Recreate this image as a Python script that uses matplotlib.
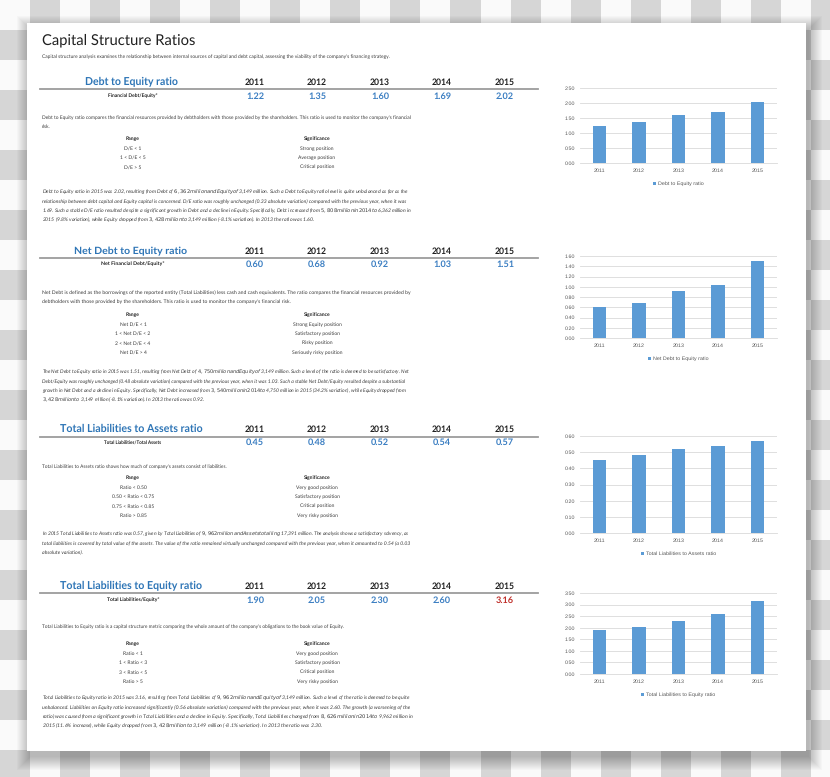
import numpy as np
import matplotlib.pyplot as plt
from matplotlib.colors import ListedColormap
from matplotlib.patches import Rectangle

plt.rcParams['text.hinting'] = 'no_hinting'

years = ['2011', '2012', '2013', '2014', '2015']
de_ratio = [1.22, 1.35, 1.60, 1.69, 2.02]
net_de_ratio = [0.60, 0.68, 0.92, 1.03, 1.51]
tl_assets = [0.45, 0.48, 0.52, 0.54, 0.57]
tl_equity = [1.90, 2.05, 2.30, 2.60, 3.16]

title = 'Capital Structure Ratios'
subtitle = ("Capital structure analysis examines the relationship between internal sources of capital "
            "and debt capital, assessing the viability of the company's financing strategy.")

headings = ['Debt to Equity ratio', 'Net Debt to Equity ratio',
            'Total Liabilities to Assets ratio', 'Total Liabilities to Equity ratio']
formulas = ['Financial Debt/Equity*', 'Net Financial Debt/Equity*',
            'Total Liabilities/Total Assets', 'Total Liabilities/Equity*']
legend_names = headings

intro_1 = ["Debt to Equity ratio compares the financial resources provided by debtholders with those provided by the shareholders. This ratio is used to monitor the company's financial",
           "risk."]
intro_2 = ["Net Debt is defined as the borrowings of the reported entity (Total Liabilities) less cash and cash equivalents. The ratio compares the financial resources provided by",
           "debtholders with those provided by the shareholders. This ratio is used to monitor the company's financial risk."]
intro_3 = ["Total Liabilities to Assets ratio shows how much of company's assets consist of liabilities."]
intro_4 = ["Total Liabilities to Equity ratio is a capital structure metric comparing the whole amount of the company's obligations to the book value of Equity."]

range_1 = ['D/E < 1', '1 < D/E < 5', 'D/E > 5']
signif_1 = ['Strong position', 'Average position', 'Critical position']
range_2 = ['Net D/E < 1', '1 < Net D/E < 2', '2 < Net D/E < 4', 'Net D/E > 4']
signif_2 = ['Strong Equity position', 'Satisfactory position', 'Risky position', 'Seriously risky position']
range_3 = ['Ratio < 0.50', '0.50 < Ratio < 0.75', '0.75 < Ratio < 0.85', 'Ratio > 0.85']
signif_3 = ['Very good position', 'Satisfactory position', 'Critical position', 'Very risky position']
range_4 = ['Ratio < 1', '1 < Ratio < 3', '3 < Ratio < 5', 'Ratio > 5']
signif_4 = ['Very good position', 'Satisfactory position', 'Critical position', 'Very risky position']

comment_1 = ["Debt to Equity ratio in 2015 was 2.02, resulting from Debt of $ 6,362 million and Equity of $ 3,149 million. Such a Debt to Equity ratio level is quite unbalanced as far as the",
             "relationship between debt capital and Equity capital is concerned. D/E ratio was roughly unchanged (0.33 absolute variation) compared with the previous year, when it was",
             "1.69. Such a stable D/E ratio resulted despite a significant growth in Debt and a decline in Equity. Specifically, Debt increased from $ 5,808 million in 2014 to $ 6,362 million in",
             "2015 (9.8% variation), while Equity dropped from $ 3,428 million to $ 3,149 million (-8.1% variation). In 2013 the ratio was 1.60."]
comment_2 = ["The Net Debt to Equity ratio in 2015 was 1.51, resulting from Net Debt of $ 4,750 million and Equity of $ 3,149 million. Such a level of the ratio is deemed to be satisfactory. Net",
             "Debt/Equity was roughly unchanged (0.48 absolute variation) compared with the previous year, when it was 1.03. Such a stable Net Debt/Equity resulted despite a substantial",
             "growth in Net Debt and a decline in Equity. Specifically, Net Debt increased from $ 3,540 million in 2014 to $ 4,750 million in 2015 (34.2% variation), while Equity dropped from",
             "$ 3,428 million to $ 3,149 million (-8.1% variation). In 2013 the ratio was 0.92."]
comment_3 = ["In 2015 Total Liabilities to Assets ratio was 0.57, given by Total Liabilities of $ 9,962 million and Assets totalling $ 17,391 million. The analysis shows a satisfactory solvency, as",
             "total liabilities is covered by total value of the assets. The value of the ratio remained virtually unchanged compared with the previous year, when it amounted to 0.54 (a 0.03",
             "absolute variation)."]
comment_4 = ["Total Liabilities to Equity ratio in 2015 was 3.16, resulting from Total Liabilities of $ 9,962 million and Equity of $ 3,149 million. Such a level of the ratio is deemed to be quite",
             "unbalanced. Liabilities on Equity ratio increased significantly (0.56 absolute variation) compared with the previous year, when it was 2.60. The growth (a worsening of the",
             "ratio) was caused from a significant growth in Total Liabilities and a decline in Equity. Specifically, Total Liabilities changed from $ 8,626 million in 2014 to $ 9,962 million in",
             "2015 (11.6% increase), while Equity dropped from $ 3,428 million to $ 3,149 million (-8.1% variation). In 2013 the ratio was 2.30."]

series = [de_ratio, net_de_ratio, tl_assets, tl_equity]
intros = [intro_1, intro_2, intro_3, intro_4]
ranges = [range_1, range_2, range_3, range_4]
signifs = [signif_1, signif_2, signif_3, signif_4]
comments = [comment_1, comment_2, comment_3, comment_4]

# layout in pixels (figure is 830 x 777)
W, H = 830, 777
head_y = [82, 251, 429, 586]
line_y = [89, 258, 437, 593]
value_y = [96, 264, 442, 600]
intro_y = [118, 293, 467, 627]
table_y = [139, 315, 478, 644]
comment_y = [192, 372, 534, 698]
year_x = [255, 317, 380, 442, 505]
chart_box = [(88, 163), (256, 338), (436, 533), (593, 674)]
chart_max = [2.5, 1.6, 0.6, 3.5]
chart_step = [0.5, 0.2, 0.1, 0.5]

BLUE = '#2e75b6'
VAL_BLUE = '#3b7ec2'
RED = '#c0302b'
TXT = '#3a3a3a'
BAR = '#5b9bd5'
DOC_FONT = ['Lato', 'DejaVu Sans']

fig = plt.figure(figsize=(W / 100, H / 100), dpi=100)
bg = fig.add_axes([0, 0, 1, 1])
bg.axis('off')

# checkerboard background
rows, cols = np.indices((27, 28))
bg.imshow((rows + cols) % 2, cmap=ListedColormap(['#fafafa', '#d6d6d6']),
          extent=[0, 28 * 30, 27 * 30, 0], interpolation='nearest', aspect='auto', zorder=0)
bg.set_xlim(0, W)
bg.set_ylim(H, 0)

# page with soft shadow
for k in range(14):
    bg.add_patch(Rectangle((27 - k + 3, 23 - k + 6), 779 + 2 * k, 728 + 2 * k,
                           color='black', alpha=0.018, lw=0, zorder=1))
bg.add_patch(Rectangle((27, 23), 779, 728, color='white', lw=0, zorder=2))

renderer = fig.canvas.get_renderer()


def fit(x, y, s, width, ha='left', **kw):
    # draw text and scale it so it spans the given pixel width
    t = bg.text(x, y, s, fontsize=10, ha=ha, va='center', family=DOC_FONT, zorder=3, **kw)
    w = t.get_window_extent(renderer).width
    t.set_fontsize(10 * width / w)
    return t.get_fontsize()


fit(42, 40, title, 153, color='#202020')
fit(42, 57, subtitle, 351, color=TXT)

for i in range(4):
    fit(131, head_y[i], headings[i], [93, 113, 142, 142][i], ha='center',
        color=BLUE, weight='bold')
    fit(133, value_y[i], formulas[i], [50, 63, 58, 52][i], ha='center',
        color='#202020', weight='bold')
    bg.plot([40, 538], [line_y[i], line_y[i]], color='#9c9c9c', lw=1.3, zorder=3)
    for j, yr in enumerate(years):
        bg.text(year_x[j], head_y[i], yr, ha='center', va='center', fontsize=6.2,
                weight='bold', color='#202020', family=DOC_FONT, zorder=3)
        val = series[i][j]
        col = RED if (i == 3 and j == 4) else VAL_BLUE
        bg.text(year_x[j], value_y[i], '%.2f' % val, ha='center', va='center',
                fontsize=6.6, weight='bold', color=col, family=DOC_FONT, zorder=3)

    # intro paragraph
    first = intros[i][0]
    fs = fit(42, intro_y[i], first, [368, 366, 183, 303][i], color=TXT)
    for k, line in enumerate(intros[i][1:]):
        bg.text(42, intro_y[i] + 8.8 * (k + 1), line, fontsize=fs, va='center',
                color=TXT, family=DOC_FONT, zorder=3)

    # range table
    tfs = 3.6
    bg.text(133, table_y[i], 'Range', ha='center', va='center', fontsize=tfs,
            weight='bold', color='#202020', family=DOC_FONT, zorder=3)
    bg.text(317, table_y[i], 'Significance', ha='center', va='center', fontsize=tfs,
            weight='bold', color='#202020', family=DOC_FONT, zorder=3)
    for k in range(len(ranges[i])):
        yy = table_y[i] + 9.4 * (k + 1)
        bg.text(133, yy, ranges[i][k], ha='center', va='center', fontsize=tfs,
                color=TXT, family=DOC_FONT, zorder=3)
        bg.text(317, yy, signifs[i][k], ha='center', va='center', fontsize=tfs,
                color=TXT, family=DOC_FONT, zorder=3)

    # italic comment, justified lines
    cfs = 3.0
    for k, line in enumerate(comments[i]):
        yy = comment_y[i] + 9.3 * k
        if k < len(comments[i]) - 1:
            cfs = fit(42, yy, line, 366, color=TXT, style='italic')
        else:
            bg.text(42, yy, line, fontsize=cfs, va='center', color=TXT,
                    style='italic', family=DOC_FONT, zorder=3)

    # bar chart
    top, bottom = chart_box[i]
    ax = fig.add_axes([580 / W, 1 - bottom / H, 197 / W, (bottom - top) / H])
    x = np.arange(len(years))
    ax.bar(x, series[i], width=0.34, color=BAR, zorder=2, label=legend_names[i])
    ax.set_xlim(-0.5, 4.5)
    ax.set_ylim(0, chart_max[i])
    ax.set_yticks(np.arange(0, chart_max[i] + 1e-9, chart_step[i]))
    ax.yaxis.set_major_formatter(plt.FormatStrFormatter('%.2f'))
    ax.set_xticks(x)
    ax.set_xticklabels(years)
    ax.grid(axis='y', color='#d9d9d9', lw=0.6, zorder=0)
    for s in ['top', 'right', 'left']:
        ax.spines[s].set_visible(False)
    ax.spines['bottom'].set_color('#d9d9d9')
    ax.spines['bottom'].set_linewidth(0.6)
    ax.tick_params(length=0, labelsize=3.9, colors='#595959', pad=3.5)
    for lab in ax.get_xticklabels() + ax.get_yticklabels():
        lab.set_family('Liberation Sans')
    h = bottom - top
    ax.legend(loc='center', bbox_to_anchor=(0.5, -21 / h), frameon=False,
              handlelength=0.5, handleheight=0.5, handletextpad=0.4,
              prop={'family': 'Liberation Sans', 'size': 3.9}, labelcolor='#595959')
    ax.set_facecolor('none')

fig.savefig('out.png', dpi=100)
